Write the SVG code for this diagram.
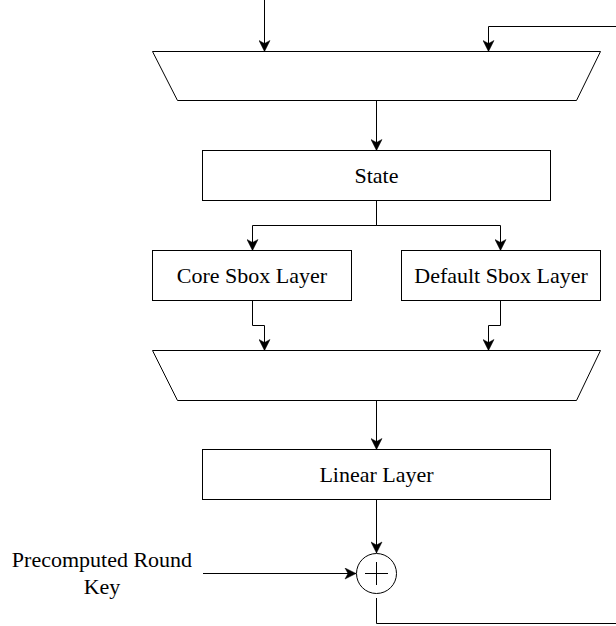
<svg xmlns="http://www.w3.org/2000/svg" width="616" height="626" viewBox="0 0 616 626">
<style>
.shape{fill:#fff;stroke:#000;stroke-width:1}
.edge{fill:none;stroke:#000;stroke-width:1;marker-end:url(#arr)}
.line{fill:none;stroke:#000;stroke-width:1}
text{font-family:"Liberation Serif","Times New Roman",serif;font-size:22px;fill:#000;text-anchor:middle}
</style>
<defs>
<marker id="arr" markerUnits="userSpaceOnUse" viewBox="-12 -6 13 12" refX="0" refY="0" markerWidth="13" markerHeight="12" orient="auto">
<path d="M0,0 L-11,-5.5 L-8,0 L-11,5.5 Z" fill="#000" stroke="#000" stroke-width="0.5"/>
</marker>
</defs>
<rect width="616" height="626" fill="#fff"/>
<g id="connectors">
<path class="edge" d="M264.5,0 V51.5"/>
<path class="edge" d="M616,26.5 H488.5 V51.5"/>
<path class="edge" d="M376.5,100.5 V150.5"/>
<path class="edge" d="M376.5,200.5 V225.5 H252.5 V250.5"/>
<path class="edge" d="M376.5,200.5 V225.5 H500.5 V250.5"/>
<path class="edge" d="M252.5,300.5 V325.5 H264.5 V350.5"/>
<path class="edge" d="M500.5,300.5 V325.5 H488.5 V350.5"/>
<path class="edge" d="M376.5,400.5 V449.5"/>
<path class="edge" d="M376.5,499.5 V553"/>
<path class="edge" d="M203,573.5 H356"/>
<path class="line" d="M376.5,598 V623.5 H616"/>
</g>
<g id="mux-top">
<path class="shape" d="M152.5,51.5 H600.5 L576.5,100.5 H177.5 Z"/>
</g>
<g id="state">
<rect class="shape" x="202.5" y="150.5" width="348" height="50"/>
<text x="376.5" y="183">State</text>
</g>
<g id="core-sbox">
<rect class="shape" x="152.5" y="250.5" width="199" height="50"/>
<text x="252" y="283">Core Sbox Layer</text>
</g>
<g id="default-sbox">
<rect class="shape" x="401.5" y="250.5" width="199" height="50"/>
<text x="501" y="283">Default Sbox Layer</text>
</g>
<g id="mux-bottom">
<path class="shape" d="M152.5,350.5 H600.5 L576.5,400.5 H177.5 Z"/>
</g>
<g id="linear">
<rect class="shape" x="202.5" y="449.5" width="348" height="50"/>
<text x="376.5" y="482">Linear Layer</text>
</g>
<g id="xor">
<circle class="shape" cx="376.5" cy="573.5" r="20"/>
<path class="line" d="M365,573.5 H388 M376.5,562 V585"/>
</g>
<g id="key-label">
<text x="102" y="567">Precomputed Round</text>
<text x="102" y="594">Key</text>
</g>
</svg>
